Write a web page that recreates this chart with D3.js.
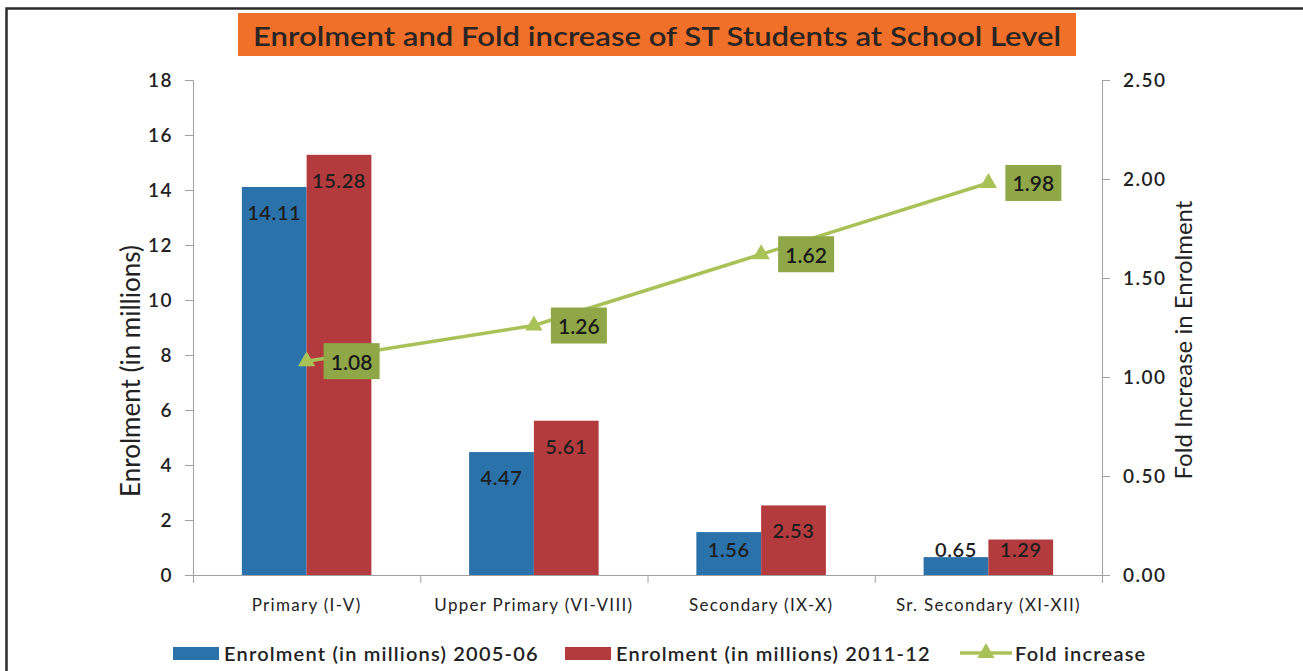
<!DOCTYPE html>
<html>
<head>
<meta charset="utf-8">
<script src="https://cdn.jsdelivr.net/npm/d3@7"></script>
<style>
  body { margin: 0; background: #fff; }
  svg { display: block; font-family: Lato, "Open Sans", sans-serif; }
</style>
</head>
<body>
<div id="chart"></div>
<script>
// data
const categories = ["Primary (I-V)", "Upper Primary  (VI-VIII)", "Secondary (IX-X)", "Sr. Secondary (XI-XII)"];
const enrol2005 = [14.11, 4.47, 1.56, 0.65];
const enrol2011 = [15.28, 5.61, 2.53, 1.29];
const foldIncrease = [1.08, 1.26, 1.62, 1.98];
const leftTicks = [0, 2, 4, 6, 8, 10, 12, 14, 16, 18];
const rightTicks = [0, 0.5, 1, 1.5, 2, 2.5];
const seriesNames = ["Enrolment (in millions) 2005-06", "Enrolment (in millions)  2011-12", "Fold increase"];

const colors = { blue: "#2a72a9", red: "#b33b3d", line: "#a9c257", box: "#8fa747" };

let dimensions = {
  width: 1303,
  height: 671,
  margin: { top: 80, right: 201, bottom: 96, left: 193 },
};
dimensions.boundedWidth = dimensions.width - dimensions.margin.left - dimensions.margin.right;
dimensions.boundedHeight = dimensions.height - dimensions.margin.top - dimensions.margin.bottom;

const wrapper = d3.select("#chart")
  .append("svg")
    .attr("width", dimensions.width)
    .attr("height", dimensions.height);

// frame (only left and top edges show)
wrapper.append("path")
  .attr("d", `M6.5,${dimensions.height} V8.5 H${dimensions.width}`)
  .attr("fill", "none")
  .attr("stroke", "#2b2b2b")
  .attr("stroke-width", 2.5);

// title
wrapper.append("rect")
  .attr("x", 238).attr("y", 13)
  .attr("width", 838).attr("height", 43)
  .attr("fill", "#f07029");
wrapper.append("text")
  .attr("x", 657).attr("y", 35)
  .attr("text-anchor", "middle")
  .attr("dominant-baseline", "central")
  .attr("font-size", 27)
  .attr("font-weight", 600)
  .attr("fill", "#2a2522")
  .attr("textLength", 808)
  .attr("lengthAdjust", "spacingAndGlyphs")
  .text("Enrolment and Fold increase of ST Students at School Level");

const bounds = wrapper.append("g")
  .attr("transform", `translate(${dimensions.margin.left}, ${dimensions.margin.top})`);

// scales
const xScale = d3.scaleBand()
  .domain(categories)
  .range([0, dimensions.boundedWidth])
  .paddingInner(0.43)
  .paddingOuter(0.215);

const xSub = d3.scaleBand()
  .domain([0, 1])
  .range([0, xScale.bandwidth()]);

const yLeft = d3.scaleLinear()
  .domain([0, 18])
  .range([dimensions.boundedHeight, 0]);

const yRight = d3.scaleLinear()
  .domain([0, 2.5])
  .range([dimensions.boundedHeight, 0]);

// axes
const axisColor = "#a0a0a0";
const styleTicks = g => g.selectAll(".tick text")
  .attr("font-size", 19)
  .attr("font-weight", 600)
  .attr("letter-spacing", 1.5)
  .attr("fill", "#222")
  .attr("font-family", "Lato, sans-serif");

bounds.append("g")
  .call(d3.axisLeft(yLeft).tickValues(leftTicks).tickSize(8).tickPadding(12))
  .call(g => g.select(".domain").attr("stroke", axisColor))
  .call(g => g.selectAll(".tick line").attr("stroke", axisColor))
  .call(styleTicks);

bounds.append("g")
  .attr("transform", `translate(${dimensions.boundedWidth}, 0)`)
  .call(d3.axisRight(yRight).tickValues(rightTicks).tickFormat(d3.format(".2f")).tickSize(8).tickPadding(13))
  .call(g => g.select(".domain").attr("stroke", axisColor))
  .call(g => g.selectAll(".tick line").attr("stroke", axisColor))
  .call(styleTicks);

// x axis: boundary ticks + category labels
const xEdges = d3.scaleLinear().domain([0, categories.length]).range([0, dimensions.boundedWidth]);
bounds.append("g")
  .attr("transform", `translate(0, ${dimensions.boundedHeight})`)
  .call(d3.axisBottom(xEdges).ticks(categories.length).tickFormat("").tickSize(8))
  .call(g => g.select(".domain").attr("stroke", axisColor))
  .call(g => g.selectAll(".tick line").attr("stroke", axisColor));

bounds.append("g")
  .attr("transform", `translate(0, ${dimensions.boundedHeight})`)
  .call(d3.axisBottom(xScale).tickSize(0).tickPadding(24))
  .call(g => g.select(".domain").remove())
  .call(g => g.selectAll(".tick text")
    .attr("font-size", 17)
    .attr("letter-spacing", 1.3)
    .attr("fill", "#222")
    .attr("font-family", "Lato, sans-serif"));

// axis titles
wrapper.append("text")
  .attr("transform", "translate(130, 371) rotate(-90)")
  .attr("text-anchor", "middle")
  .attr("dominant-baseline", "central")
  .attr("font-size", 26)
  .attr("fill", "#222")
  .text("Enrolment (in millions)");

wrapper.append("text")
  .attr("transform", "translate(1182, 340) rotate(-90)")
  .attr("text-anchor", "middle")
  .attr("dominant-baseline", "central")
  .attr("font-size", 24)
  .attr("fill", "#222")
  .text("Fold Increase in Enrolment");

// bars
const barData = categories.map((c, i) => [
  { cat: c, s: 0, v: enrol2005[i] },
  { cat: c, s: 1, v: enrol2011[i] },
]).flat();

const barColor = s => s === 0 ? colors.blue : colors.red;

bounds.append("g")
  .selectAll("rect")
  .data(barData)
  .join("rect")
    .attr("x", d => xScale(d.cat) + xSub(d.s))
    .attr("y", d => yLeft(d.v))
    .attr("width", xSub.bandwidth())
    .attr("height", d => dimensions.boundedHeight - yLeft(d.v))
    .attr("fill", d => barColor(d.s));

bounds.append("g")
  .selectAll("text")
  .data(barData)
  .join("text")
    .attr("x", d => xScale(d.cat) + xSub(d.s) + xSub.bandwidth() / 2)
    .attr("y", d => Math.min(yLeft(d.v) + 25, dimensions.boundedHeight - 26))
    .attr("text-anchor", "middle")
    .attr("dominant-baseline", "central")
    .attr("font-size", 20)
    .attr("font-weight", 600)
    .attr("letter-spacing", 0.6)
    .attr("fill", "#1e1e1e")
    .text(d => d3.format(".2f")(d.v));

// fold increase line
const cx = (d, i) => xScale(categories[i]) + xScale.bandwidth() / 2;
const line = d3.line()
  .x(cx)
  .y(d => yRight(d));

bounds.append("path")
  .datum(foldIncrease)
  .attr("d", line)
  .attr("fill", "none")
  .attr("stroke", colors.line)
  .attr("stroke-width", 3.5);

const tri = d3.symbol().type(d3.symbolTriangle).size(130);

bounds.append("g")
  .selectAll("path")
  .data(foldIncrease)
  .join("path")
    .attr("transform", (d, i) => `translate(${cx(d, i)}, ${yRight(d)})`)
    .attr("d", tri)
    .attr("fill", colors.line);

const labels = bounds.append("g")
  .selectAll("g")
  .data(foldIncrease)
  .join("g")
    .attr("transform", (d, i) => `translate(${cx(d, i) + 17}, ${yRight(d)})`);

labels.append("rect")
  .attr("y", -18)
  .attr("width", 56)
  .attr("height", 36)
  .attr("fill", colors.box);

labels.append("text")
  .attr("x", 28)
  .attr("text-anchor", "middle")
  .attr("dominant-baseline", "central")
  .attr("font-size", 21)
  .attr("font-weight", 600)
  .attr("fill", "#1a1a1a")
  .text(d => d3.format(".2f")(d));

// legend
const legend = wrapper.append("g").attr("transform", "translate(0, 653)");
const legendX = [173, 565, 960];

legend.append("rect").attr("x", legendX[0]).attr("y", -6).attr("width", 46).attr("height", 13).attr("fill", colors.blue);
legend.append("rect").attr("x", legendX[1]).attr("y", -6).attr("width", 46).attr("height", 13).attr("fill", colors.red);
legend.append("line")
  .attr("x1", legendX[2]).attr("x2", legendX[2] + 52)
  .attr("stroke", colors.line).attr("stroke-width", 3.5);
legend.append("path")
  .attr("transform", `translate(${legendX[2] + 26}, 0)`)
  .attr("d", tri)
  .attr("fill", colors.line);

legend.selectAll("text")
  .data(seriesNames)
  .join("text")
    .attr("x", (d, i) => legendX[i] + (i === 2 ? 55 : 51))
    .attr("dominant-baseline", "central")
    .attr("font-size", 20)
    .attr("font-weight", 600)
    .attr("letter-spacing", 1.2)
    .attr("fill", "#222")
    .text(d => d);
</script>
</body>
</html>
